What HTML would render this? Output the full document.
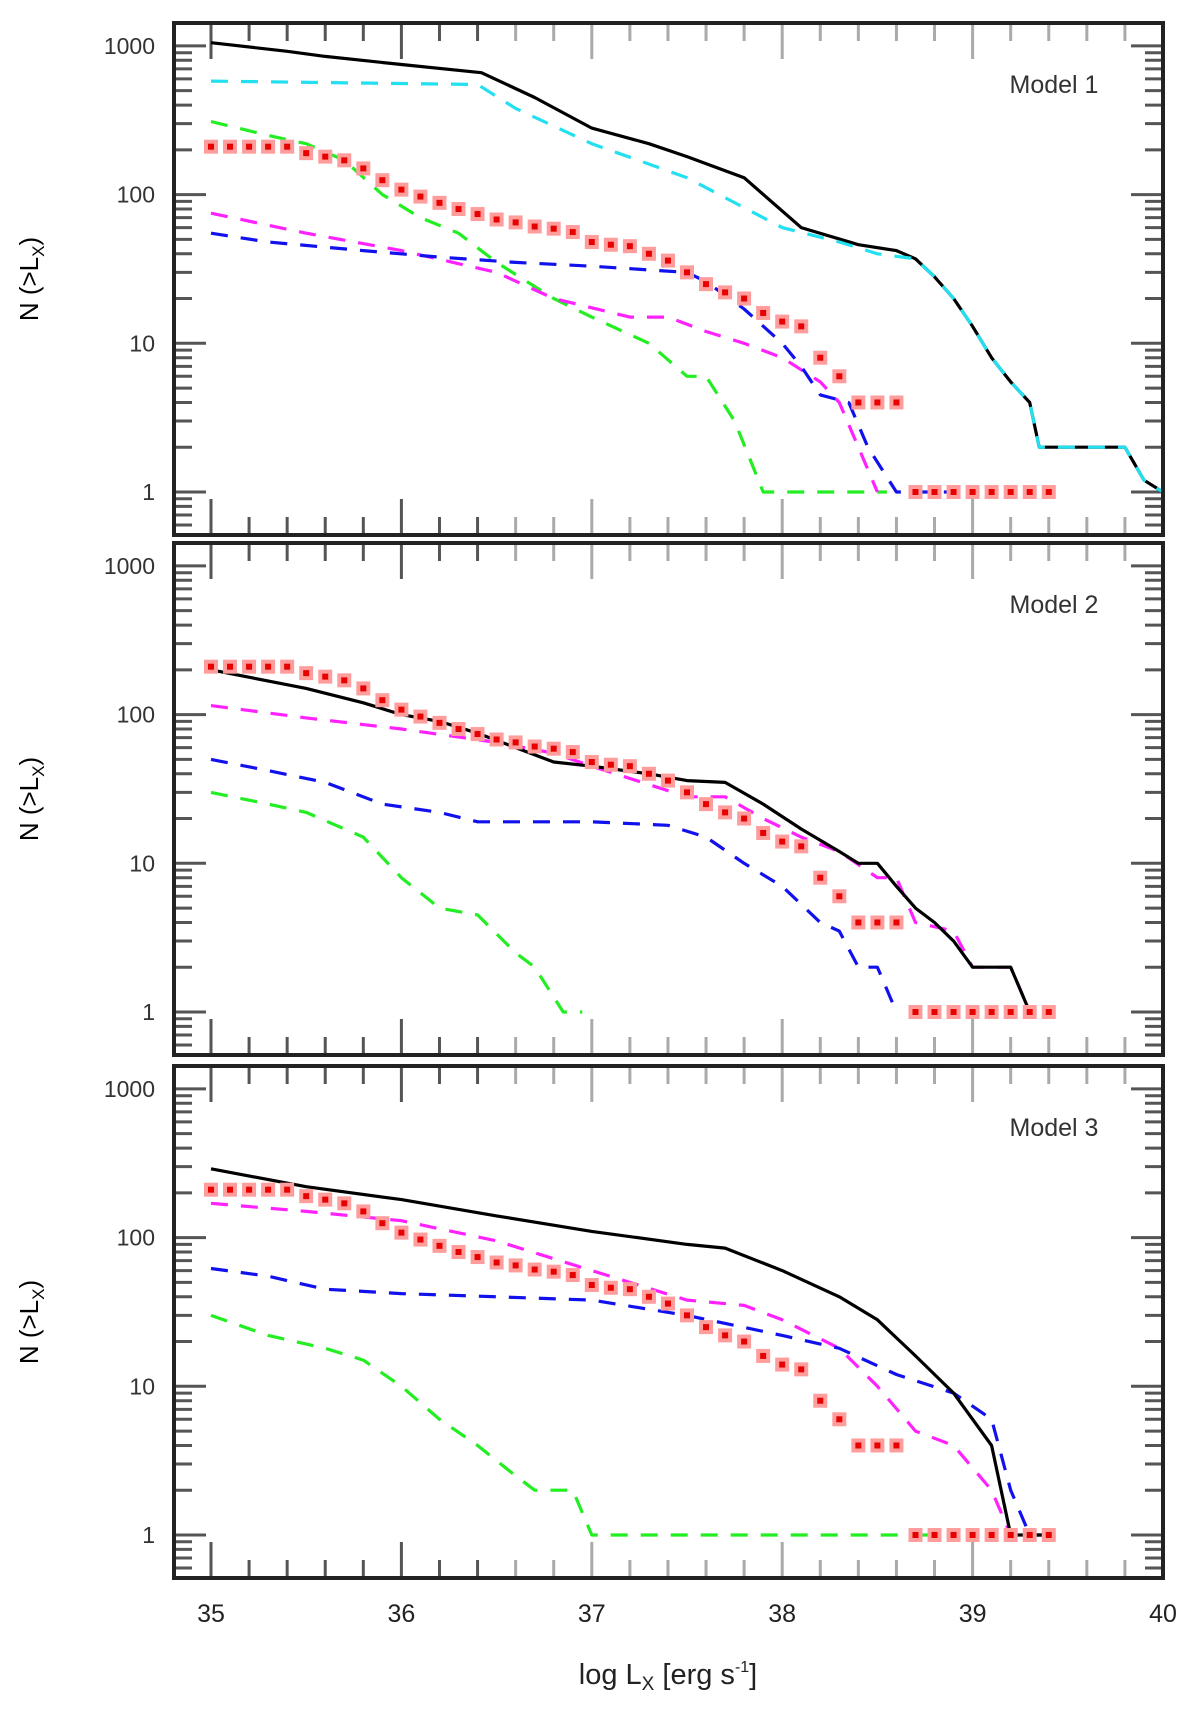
<!DOCTYPE html>
<html><head><meta charset="utf-8">
<style>
html,body{margin:0;padding:0;background:#fff;}
svg{display:block;font-family:"Liberation Sans",sans-serif;}
</style></head>
<body>
<svg id="chart" width="1200" height="1716" viewBox="0 0 1200 1716" xmlns="http://www.w3.org/2000/svg"></svg>
<script>
// ---- data ----
const panelTitles = ["Model 1", "Model 2", "Model 3"];
const yTickLabels = ["1", "10", "100", "1000"];
const xTickLabels = ["35", "36", "37", "38", "39", "40"];
const redX = [35.0,35.1,35.2,35.3,35.4,35.5,35.6,35.7,35.8,35.9,36.0,36.1,36.2,36.3,36.4,36.5,36.6,36.7,36.8,36.9,37.0,37.1,37.2,37.3,37.4,37.5,37.6,37.7,37.8,37.9,38.0,38.1,38.2,38.3,38.4,38.5,38.6,38.7,38.8,38.9,39.0,39.1,39.2,39.3,39.4];
const redN = [210,210,210,210,210,190,180,170,150,125,108,97,88,80,74,68,65,61,59,56,48,46,45,40,36,30,25,22,20,16,14,13,8,6,4,4,4,1,1,1,1,1,1,1,1];

// Model 1
const m1BlackX = [35,35.4,35.6,36,36.42,36.7,37,37.3,37.5,37.8,38.1,38.4,38.6,38.7,38.8,38.9,39.0,39.1,39.2,39.3,39.35,39.8,39.9,40];
const m1BlackN = [1050,920,850,750,660,450,280,220,180,130,60,46,42,37,28,20,13,8,5.5,4,2,2,1.2,1];
const m1CyanX = [35,36.4,36.6,37,37.5,38,38.3,38.5,38.7,38.8,38.9,39.0,39.1,39.2,39.3,39.35,39.8,39.9,40];
const m1CyanN = [580,550,380,220,130,60,48,40,37,28,20,13,8,5.5,4,2,2,1.2,1];
const m1GreenX = [35,35.3,35.5,35.7,35.9,36.1,36.3,36.5,36.8,37,37.3,37.5,37.6,37.75,37.9,38.55];
const m1GreenN = [310,250,220,170,100,70,55,35,20,15,10,6,6,3,1,1];
const m1MagentaX = [35,35.5,36,36.5,36.8,37.2,37.4,37.6,37.8,38,38.2,38.3,38.4,38.5];
const m1MagentaN = [75,55,42,30,20,15,15,12,10,8,5.5,4,2,1];
const m1BlueX = [35,35.3,35.8,36.2,36.6,37,37.5,37.6,37.8,38,38.1,38.2,38.35,38.45,38.6,38.9];
const m1BlueN = [55,48,42,38,35,33,30,26,17,10,7,4.5,4,2,1,1];

// Model 2
const m2BlackX = [35,35.5,35.8,36,36.2,36.4,36.6,36.8,37,37.3,37.5,37.7,37.9,38.1,38.3,38.4,38.5,38.6,38.7,38.8,38.9,39,39.2,39.3];
const m2BlackN = [200,150,120,100,90,75,60,48,45,40,36,35,25,17,12,10,10,7,5,4,3,2,2,1];
const m2MagentaX = [35,35.5,36,36.5,36.8,37,37.5,37.7,37.9,38.1,38.3,38.5,38.6,38.7,38.9,39,39.2,39.3];
const m2MagentaN = [115,95,80,65,55,45,28,28,20,15,12,8,8,4,3.5,2,2,1];
const m2BlueX = [35,35.3,35.6,35.9,36.2,36.4,37,37.4,37.6,37.8,38,38.2,38.3,38.4,38.5,38.6];
const m2BlueN = [50,42,35,25,22,19,19,18,15,10,7,4,3.5,2,2,1];
const m2GreenX = [35,35.3,35.5,35.8,36,36.2,36.4,36.6,36.7,36.85,36.95];
const m2GreenN = [30,25,22,15,8,5,4.5,2.5,2,1,1];

// Model 3
const m3BlackX = [35,35.5,36,36.5,37,37.5,37.7,38,38.3,38.5,38.7,38.9,39.1,39.2,39.4];
const m3BlackN = [290,220,180,140,110,90,85,60,40,28,16,9,4,1,1];
const m3MagentaX = [35,35.5,36,36.5,37,37.5,37.8,38,38.3,38.5,38.7,38.9,39.1,39.2];
const m3MagentaN = [170,150,130,95,60,38,35,28,18,10,5,4,2,1];
const m3BlueX = [35,35.3,35.6,36,36.5,37,37.5,38,38.3,38.6,38.9,39.1,39.2,39.3,39.4];
const m3BlueN = [62,55,45,42,40,38,30,22,18,12,9,6,2,1,1];
const m3GreenX = [35,35.3,35.6,35.8,36,36.2,36.4,36.6,36.7,36.9,37,38.8];
const m3GreenN = [30,22,18,15,10,6,4,2.5,2,2,1,1];

const panelSeries = [
  [["green",m1GreenX,m1GreenN,"#22ee22"],["magenta",m1MagentaX,m1MagentaN,"#ff22ff"],["blue",m1BlueX,m1BlueN,"#1111ee"],["black",m1BlackX,m1BlackN,"#000"],["cyan",m1CyanX,m1CyanN,"#22e0f0"]],
  [["green",m2GreenX,m2GreenN,"#22ee22"],["magenta",m2MagentaX,m2MagentaN,"#ff22ff"],["blue",m2BlueX,m2BlueN,"#1111ee"],["black",m2BlackX,m2BlackN,"#000"]],
  [["green",m3GreenX,m3GreenN,"#22ee22"],["magenta",m3MagentaX,m3MagentaN,"#ff22ff"],["blue",m3BlueX,m3BlueN,"#1111ee"],["black",m3BlackX,m3BlackN,"#000"]]
];

// ---- layout ----
const NS = "http://www.w3.org/2000/svg";
const svg = document.getElementById("chart");
const L = 174, R = 1163;
const panelTops = [23, 543, 1066];
const panelH = 512;
function xs(v){ return 211 + (v - 35) * 190.4; }
function mk(tag, attrs, parent){
  const e = document.createElementNS(NS, tag);
  for (const k in attrs) e.setAttribute(k, attrs[k]);
  (parent || svg).appendChild(e);
  return e;
}

panelTops.forEach((top, p) => {
  const bottom = top + panelH;
  const ys = v => top + 469 - Math.log10(v) * 148.7;
  const g = mk("g", {});
  
  

  // ticks x
  for (let i = 0; i <= 25; i++) {
    const v = 35 + i * 0.2;
    const x = xs(v);
    if (x > R - 2) continue;
    const major = i % 5 === 0;
    const len = major ? 36 : 18;
    const col = (v > 36.5 ? "#aaa" : "#555");
    const t1 = mk("line", {x1:x, y1:top, x2:x, y2:top+len, stroke:col, "stroke-width":3}, g);
    
    
    const t2 = mk("line", {x1:x, y1:bottom, x2:x, y2:bottom-len, stroke:col, "stroke-width":3}, g);
    
    
  }
  // ticks y
  for (let d = 0; d < 4; d++) {
    for (let m = 1; m <= 9; m++) {
      const v = Math.pow(10, d) * m;
      const y = ys(v);
      if (y < top + 3) continue;
      const len = m === 1 ? 32 : 18;
      const a = mk("line", {x1:L, y1:y, x2:L+len, y2:y, stroke:"#555", "stroke-width":3}, g);
      
      
      const b = mk("line", {x1:R, y1:y, x2:R-len, y2:y, stroke:"#555", "stroke-width":3}, g);
      
      
    }
    // below 1
  }
  for (let m = 5; m <= 9; m++) {
    const y = ys(m / 10);
    if (y > bottom - 3) continue;
    const a = mk("line", {x1:L, y1:y, x2:L+18, y2:y, stroke:"#555", "stroke-width":3}, g);
    
    
    const b = mk("line", {x1:R, y1:y, x2:R-18, y2:y, stroke:"#555", "stroke-width":3}, g);
    
    
  }
  yTickLabels.forEach(lbl => {
    const t = mk("text", {x:155, y:ys(+lbl)+8, "text-anchor":"end", "font-size":23, fill:"#333"}, g);
    t.textContent = lbl;
    
    
  });
  // y title
  const yt = mk("text", {x:0, y:0, "font-size":26, fill:"#000", "text-anchor":"middle", transform:`translate(38,${top+256}) rotate(-90)`}, g);
  
  
  yt.innerHTML = 'N (&gt;L<tspan font-size="17" dy="6">X</tspan><tspan dy="-6">)</tspan>';

  // series
  panelSeries[p].forEach(s => {
    const [name, X, N, col] = s;
    const pts = X.map((x, i) => xs(x).toFixed(1) + "," + ys(N[i]).toFixed(1)).join(" ");
    const attrs = {points:pts, fill:"none", stroke:col, "stroke-width":3.2, "stroke-linejoin":"round"};
    if (name !== "black") attrs["stroke-dasharray"] = "17 13";
    const pl = mk("polyline", attrs, g);
    
    
  });
  // red squares
  redX.forEach((x, i) => {
    const cx = xs(x), cy = ys(redN[i]);
    const r1 = mk("rect", {x:cx-7, y:cy-7, width:14, height:14, fill:"#ff9d9d"}, g);
    
    
    const r2 = mk("rect", {x:cx-3, y:cy-3, width:6, height:6, fill:"#e60000"}, g);
    
    
  });
  // frame
  const fr = mk("rect", {x:L, y:top, width:R-L, height:panelH, fill:"none", stroke:"#222", "stroke-width":4}, g);
  
  
  const tt = mk("text", {x:1054, y:top+70, "text-anchor":"middle", "font-size":25, fill:"#333"}, g);
  tt.textContent = panelTitles[p];
  
  
});

xTickLabels.forEach(lbl => {
  const t = mk("text", {x:xs(+lbl), y:1622, "text-anchor":"middle", "font-size":25, fill:"#222"});
  t.textContent = lbl;
  
  
});
const xt = mk("text", {x:668, y:1684, "text-anchor":"middle", "font-size":29, fill:"#222"});
xt.innerHTML = 'log L<tspan font-size="19" dy="6">X</tspan><tspan dy="-6"> [erg s</tspan><tspan font-size="16" dy="-12">-1</tspan><tspan dy="12">]</tspan>';


</script>
</body></html>
